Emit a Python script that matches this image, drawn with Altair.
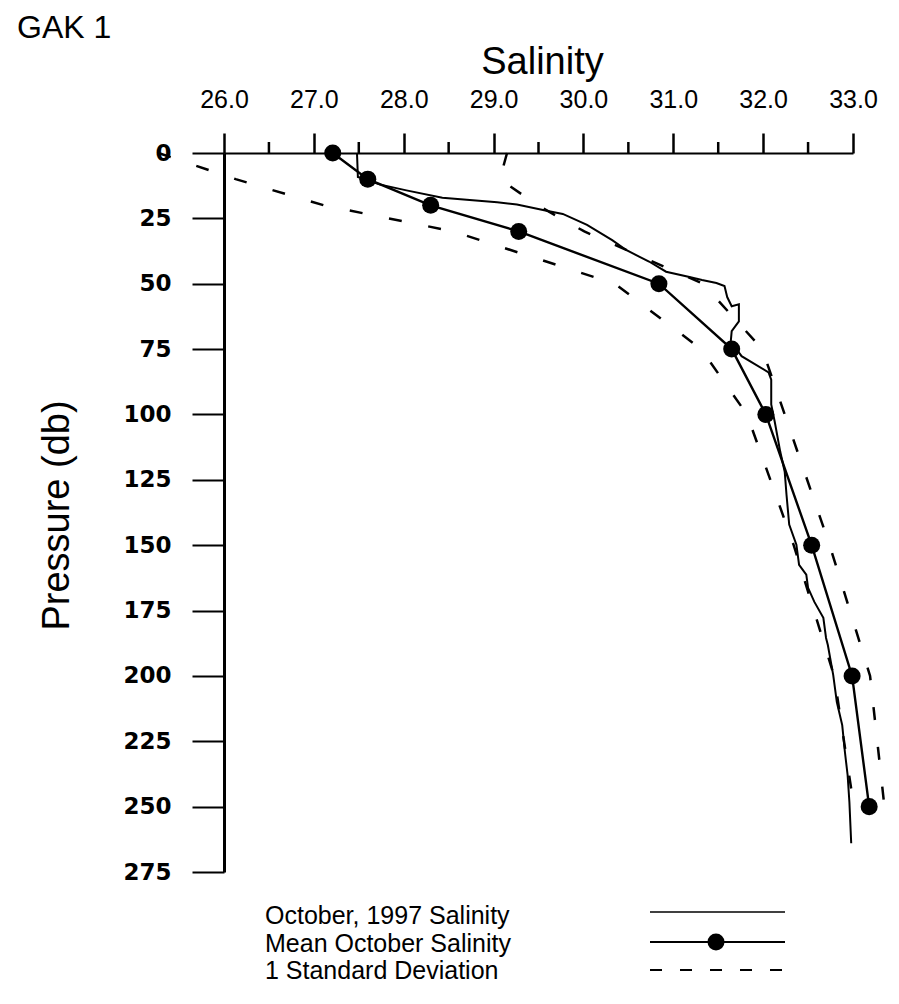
import altair as alt
import pandas as pd

# Standard sampling depths (db) with the October mean salinity and one standard deviation
depth = [0, 10, 20, 30, 50, 75, 100, 150, 200, 250]
mean_sal = [27.21, 27.60, 28.30, 29.28, 30.84, 31.65, 32.03, 32.54, 32.99, 33.18]
std_sal = [1.94, 1.47, 1.19, 0.73, 0.49, 0.34, 0.21, 0.20, 0.20, 0.17]

# October 1997 CTD cast (pressure in db, salinity)
cast_p = [0, 9.2, 12.0, 14.3, 17.1, 18.8, 19.7, 22.1, 23.3, 27.5, 33.3, 37.2, 39.6,
          41.5, 45.4, 47.4, 48.6, 49.7, 50.9, 55.1, 58.6, 57.9, 64.4, 68.1, 72.0,
          77.7, 83.9, 86.7, 96.2, 103.0, 114.2, 121.9, 130.7, 142.1, 149.8, 157.5,
          161.3, 166.3, 171.7, 177.8, 185.5, 188.2, 199.7, 210.0, 218.8, 229.1,
          237.9, 248.3, 264.0]
cast_s = [27.48, 27.49, 27.73, 28.03, 28.43, 29.04, 29.26, 29.59, 29.77, 30.04,
          30.32, 30.48, 30.62, 30.73, 30.92, 31.18, 31.32, 31.48, 31.57, 31.60,
          31.65, 31.73, 31.73, 31.65, 31.64, 31.76, 32.06, 32.09, 32.09, 32.13,
          32.19, 32.24, 32.26, 32.29, 32.37, 32.40, 32.48, 32.50, 32.57, 32.67,
          32.70, 32.72, 32.78, 32.82, 32.88, 32.91, 32.94, 32.96, 32.98]

# Axis ticks
sal_ticks = [26.0, 27.0, 28.0, 29.0, 30.0, 31.0, 32.0, 33.0]
sal_minor = [26.5, 27.5, 28.5, 29.5, 30.5, 31.5, 32.5]
pres_ticks = [0, 25, 50, 75, 100, 125, 150, 175, 200, 225, 250, 275]

station = "GAK 1"
legend_labels = ["October, 1997 Salinity", "Mean October Salinity", "1 Standard Deviation"]

W, H = 629, 719
BLACK = "#000000"
SANS = "Liberation Sans, Arial, sans-serif"

mean_df = pd.DataFrame({"p": depth, "s": mean_sal, "i": range(len(depth))})
sd_df = pd.concat([
    pd.DataFrame({"p": depth, "s": [m - d for m, d in zip(mean_sal, std_sal)],
                  "side": "low", "i": range(len(depth))}),
    pd.DataFrame({"p": depth, "s": [m + d for m, d in zip(mean_sal, std_sal)],
                  "side": "high", "i": range(len(depth))}),
])
cast_df = pd.DataFrame({"p": cast_p, "s": cast_s, "i": range(len(cast_p))})
minor_df = pd.DataFrame({"s": sal_minor})

xscale = alt.Scale(domain=[26, 33], nice=False, zero=False)
yscale = alt.Scale(domain=[0, 275], reverse=True, nice=False, zero=False)

xaxis = alt.Axis(
    orient="top", values=sal_ticks, format=".1f", grid=False,
    domainColor=BLACK, domainWidth=2, tickColor=BLACK, tickWidth=2.5, tickSize=20,
    labelFont=SANS, labelFontSize=25, labelColor=BLACK, labelPadding=26,
    labelBaseline="alphabetic", labelFlush=False, labelOverlap=False,
    title="Salinity", titleFont=SANS, titleFontSize=38, titleFontWeight="normal",
    titleColor=BLACK, titleX=318, titleY=-91, titleBaseline="middle", titleAlign="center",
)
yaxis = alt.Axis(
    values=pres_ticks, grid=False,
    domainColor=BLACK, domainWidth=3, tickColor=BLACK, tickWidth=2, tickSize=32,
    labelFont="DejaVu Sans", labelFontSize=23, labelFontWeight="bold",
    labelColor=BLACK, labelPadding=21, labelFlush=False, labelOverlap=False,
    title="Pressure (db)", titleFont=SANS, titleFontSize=38, titleFontWeight="normal",
    titleColor=BLACK, titleX=-167, titleY=362, titleAngle=270,
    titleBaseline="middle", titleAlign="center",
)

X = alt.X("s:Q", scale=xscale, axis=xaxis)
Y = alt.Y("p:Q", scale=yscale, axis=yaxis)

# One-standard-deviation envelope
sd_lines = alt.Chart(sd_df).mark_line(
    color=BLACK, strokeWidth=2.5, strokeDash=[13, 27]
).encode(x=X, y=Y, detail="side:N", order="i:Q")

# October 1997 profile
cast_line = alt.Chart(cast_df).mark_line(color=BLACK, strokeWidth=2).encode(
    x=X, y=Y, order="i:Q")

# Mean profile with markers
mean_line = alt.Chart(mean_df).mark_line(color=BLACK, strokeWidth=2.4).encode(
    x=X, y=Y, order="i:Q")
mean_pts = alt.Chart(mean_df).mark_circle(color=BLACK, opacity=1, size=290).encode(x=X, y=Y)

# Half-unit minor ticks on the salinity axis
minor_ticks = alt.Chart(minor_df).mark_rule(color=BLACK, strokeWidth=2.5).encode(
    x=X, y=alt.value(-11), y2=alt.value(0))

# Station label
title_txt = alt.Chart(pd.DataFrame({"t": [station]})).mark_text(
    font=SANS, fontSize=32, align="left", baseline="alphabetic", color=BLACK
).encode(text="t:N", x=alt.value(-207), y=alt.value(-115))

# Legend block
legend_layers = []
row_y = [763, 791, 818]
for lab, yy in zip(legend_labels, row_y):
    legend_layers.append(
        alt.Chart(pd.DataFrame({"t": [lab]})).mark_text(
            font=SANS, fontSize=25, align="left", baseline="middle", color=BLACK
        ).encode(text="t:N", x=alt.value(41), y=alt.value(yy))
    )
one = pd.DataFrame({"k": [0]})
legend_layers += [
    alt.Chart(one).mark_rule(color=BLACK, strokeWidth=1.5).encode(
        x=alt.value(426), x2=alt.value(561), y=alt.value(759)),
    alt.Chart(one).mark_rule(color=BLACK, strokeWidth=1.8).encode(
        x=alt.value(426), x2=alt.value(561), y=alt.value(789)),
    alt.Chart(one).mark_circle(color=BLACK, opacity=1, size=290).encode(
        x=alt.value(492), y=alt.value(789)),
    alt.Chart(one).mark_rule(color=BLACK, strokeWidth=2, strokeDash=[12, 18]).encode(
        x=alt.value(426), x2=alt.value(561), y=alt.value(817)),
]

chart = alt.layer(
    sd_lines, cast_line, mean_line, mean_pts, minor_ticks, title_txt, *legend_layers
).properties(
    width=W, height=H,
    padding={"left": 224, "top": 153, "right": 46, "bottom": 132},
    autosize=alt.AutoSizeParams(type="none"),
    background="white",
).configure_view(stroke=None)

chart.save("out.html", embed_options={"renderer": "svg", "actions": False})
